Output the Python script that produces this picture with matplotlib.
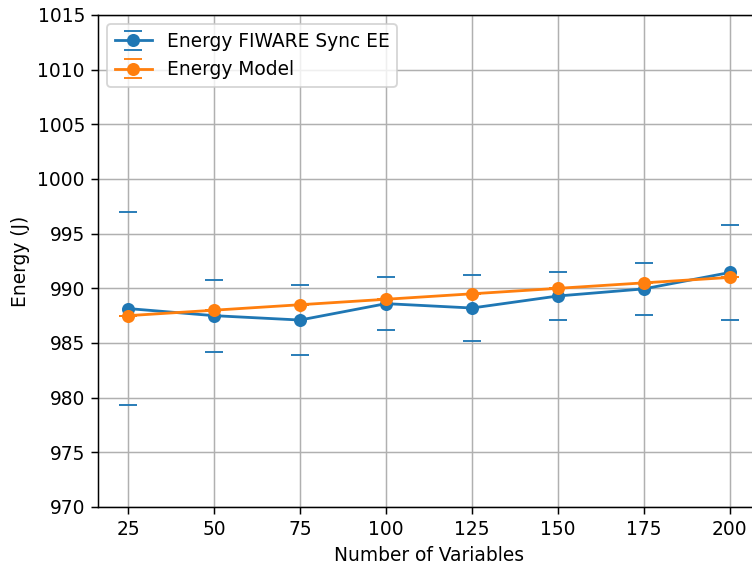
import matplotlib
matplotlib.use("Agg")
import matplotlib.pyplot as plt

variables = [25, 50, 75, 100, 125, 150, 175, 200]
energy_fiware = [988.15, 987.5, 987.1, 988.6, 988.2, 989.3, 989.95, 991.45]
energy_fiware_err = [8.85, 3.3, 3.2, 2.4, 3.0, 2.2, 2.35, 4.35]
energy_model = [987.5, 988.0, 988.5, 989.0, 989.5, 990.0, 990.5, 991.0]
energy_model_err = [0, 0, 0, 0, 0, 0, 0, 0]

dpi = 134
fig = plt.figure(figsize=(752 / dpi, 567 / dpi), dpi=dpi)
# right spine falls just outside the image, as in the reference
ax = fig.add_axes([98 / 752, 1 - 507 / 567, (760 - 98) / 752, (507 - 15) / 567])

ax.errorbar(variables, energy_fiware, yerr=energy_fiware_err, marker='o',
            capsize=5, elinewidth=0, label='Energy FIWARE Sync EE')
ax.errorbar(variables, energy_model, yerr=energy_model_err, marker='o',
            capsize=5, elinewidth=0, label='Energy Model')

ax.set_ylim(970, 1015)
ax.set_xticks(variables)
ax.set_xlabel('Number of Variables')
ax.set_ylabel('Energy (J)')
ax.grid(True)
ax.legend(loc='upper left')

fig.savefig('out.png', dpi=dpi)
